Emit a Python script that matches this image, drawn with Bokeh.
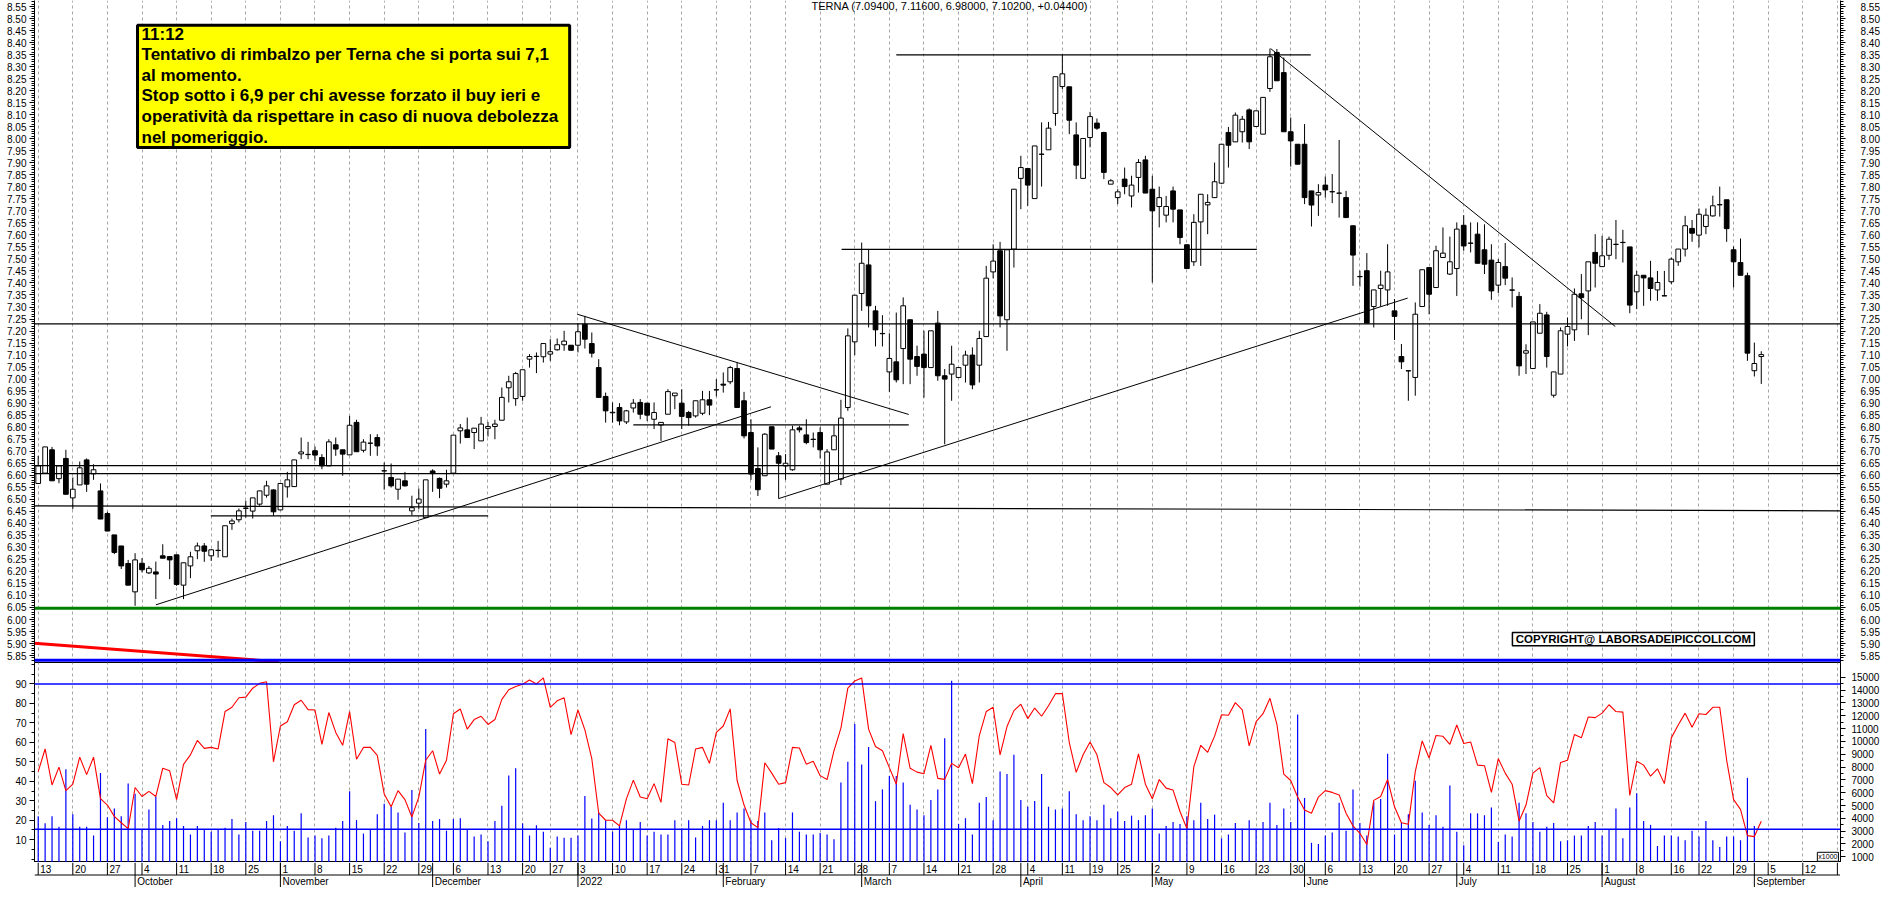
from bokeh.plotting import figure
from bokeh.layouts import column
from bokeh.models import (Range1d, LinearAxis, FixedTicker, Grid, ColumnDataSource,
                          NumeralTickFormatter, Span, Label)
from bokeh.core.properties import value
from bokeh.embed import file_html
from bokeh.resources import INLINE

FONT = "Liberation Sans"

# ---------------- data (trading-day index 0 = 13 Sep 2021) ----------------
opens = [6.566,6.609,6.706,6.586,6.670,6.506,6.560,6.664,6.606,6.535,
6.441,6.352,6.306,6.233,6.115,6.234,6.194,6.198,6.265,6.262,
6.269,6.143,6.223,6.286,6.306,6.265,6.287,6.261,6.399,6.415,
6.462,6.451,6.480,6.517,6.539,6.456,6.552,6.553,6.689,6.686,
6.702,6.674,6.639,6.727,6.706,6.685,6.820,6.704,6.733,6.757,
6.618,6.591,6.542,6.577,6.452,6.484,6.424,6.618,6.587,6.563,
6.609,6.785,6.789,6.778,6.743,6.795,6.803,6.829,6.964,6.919,
6.928,7.083,7.094,7.093,7.104,7.122,7.143,7.141,7.141,7.228,
7.148,7.048,6.928,6.860,6.882,6.822,6.880,6.903,6.900,6.833,
6.809,6.854,6.931,6.900,6.861,6.847,6.858,6.914,6.955,6.979,
6.989,7.044,6.910,6.778,6.628,6.598,6.802,6.681,6.639,6.623,
6.797,6.768,6.750,6.778,6.563,6.706,6.584,6.882,7.155,7.356,
7.475,7.284,7.190,7.030,7.072,7.127,7.247,7.094,7.104,7.048,
7.233,7.014,7.021,7.007,7.058,7.100,7.058,7.177,7.446,7.534,
7.247,7.541,7.835,7.876,7.751,7.935,7.954,8.105,8.217,8.216,
8.016,7.835,8.005,8.065,8.026,7.811,7.755,7.832,7.762,7.839,
7.912,7.790,7.718,7.682,7.783,7.704,7.559,7.488,7.654,7.725,
7.755,7.815,8.026,7.987,8.029,8.120,8.051,8.019,8.209,8.359,
8.275,8.029,7.977,7.977,7.783,7.766,7.807,7.779,7.773,7.755,
7.638,7.427,7.451,7.302,7.377,7.371,7.284,7.094,7.035,7.007,
7.302,7.464,7.381,7.506,7.437,7.460,7.640,7.566,7.603,7.538,
7.495,7.391,7.468,7.371,7.344,7.108,7.044,7.191,7.267,6.933,
7.021,7.187,7.205,7.355,7.367,7.527,7.468,7.515,7.561,7.569,
7.550,7.363,7.432,7.421,7.371,7.347,7.405,7.488,7.541,7.627,
7.599,7.635,7.679,7.725,7.746,7.538,7.485,7.430,7.035,7.094]

highs = [6.681,6.718,6.718,6.639,6.706,6.591,6.657,6.670,6.646,6.566,
6.448,6.352,6.306,6.248,6.276,6.255,6.223,6.241,6.313,6.262,
6.269,6.236,6.282,6.320,6.318,6.293,6.327,6.390,6.420,6.462,
6.494,6.506,6.535,6.577,6.542,6.566,6.614,6.664,6.757,6.739,
6.720,6.688,6.750,6.757,6.706,6.847,6.831,6.750,6.771,6.771,
6.653,6.649,6.584,6.614,6.515,6.545,6.581,6.625,6.591,6.623,
6.767,6.813,6.840,6.796,6.843,6.822,6.831,6.965,7.014,7.030,
7.039,7.104,7.111,7.148,7.166,7.169,7.201,7.141,7.233,7.263,
7.194,7.083,6.944,6.903,6.900,6.872,6.917,6.917,6.900,6.903,
6.820,6.958,6.942,6.958,6.868,6.910,6.951,6.951,7.000,7.028,
7.055,7.069,6.947,6.833,6.716,6.775,6.802,6.697,6.688,6.806,
6.806,6.833,6.778,6.799,6.709,6.808,6.914,7.211,7.349,7.568,
7.538,7.305,7.266,7.191,7.277,7.340,7.247,7.139,7.201,7.201,
7.284,7.042,7.139,7.048,7.118,7.132,7.201,7.471,7.561,7.571,
7.538,7.790,7.929,7.876,7.970,8.068,8.070,8.258,8.349,8.216,
8.068,8.001,8.112,8.084,8.029,7.832,7.790,7.880,7.846,7.915,
7.929,7.846,7.801,7.762,7.801,7.704,7.559,7.686,7.769,7.769,
7.901,7.977,8.049,8.109,8.095,8.126,8.116,8.172,8.375,8.373,
8.338,8.088,7.977,8.061,7.783,7.811,7.843,7.853,7.995,7.783,
7.638,7.451,7.524,7.371,7.451,7.561,7.333,7.146,7.035,7.319,
7.455,7.464,7.555,7.631,7.593,7.652,7.682,7.652,7.652,7.644,
7.561,7.499,7.566,7.423,7.363,7.145,7.238,7.312,7.280,7.030,
7.215,7.256,7.377,7.437,7.488,7.603,7.596,7.593,7.662,7.621,
7.550,7.450,7.432,7.492,7.450,7.450,7.506,7.541,7.679,7.662,
7.710,7.710,7.763,7.801,7.746,7.552,7.585,7.443,7.152,7.116]

lows = [6.566,6.607,6.577,6.567,6.521,6.459,6.560,6.531,6.581,6.418,
6.368,6.272,6.210,6.143,6.057,6.196,6.189,6.085,6.255,6.168,
6.140,6.085,6.172,6.251,6.240,6.244,6.258,6.261,6.373,6.404,
6.424,6.420,6.473,6.507,6.431,6.456,6.507,6.553,6.667,6.667,
6.660,6.625,6.639,6.681,6.598,6.685,6.698,6.695,6.681,6.681,
6.540,6.549,6.498,6.553,6.434,6.459,6.424,6.531,6.505,6.549,
6.609,6.732,6.757,6.709,6.743,6.761,6.750,6.829,6.903,6.889,
6.910,7.048,7.025,7.069,7.076,7.118,7.118,7.120,7.111,7.127,
7.090,6.924,6.819,6.819,6.808,6.813,6.861,6.833,6.826,6.792,
6.743,6.854,6.875,6.792,6.806,6.840,6.850,6.850,6.928,6.944,
6.979,6.882,6.753,6.581,6.514,6.598,6.709,6.503,6.581,6.619,
6.778,6.729,6.716,6.670,6.563,6.706,6.559,6.868,7.100,7.284,
7.215,7.136,7.136,6.947,6.986,6.979,6.979,7.014,6.923,7.048,
6.993,6.729,6.910,7.007,6.986,6.958,6.986,7.177,7.419,7.215,
7.118,7.464,7.707,7.721,7.751,7.801,7.954,8.054,8.206,8.019,
7.832,7.835,7.964,8.037,7.832,7.811,7.728,7.769,7.714,7.776,
7.774,7.402,7.631,7.652,7.652,7.561,7.460,7.471,7.471,7.603,
7.755,7.811,7.880,7.987,7.984,7.957,8.051,8.019,8.195,8.241,
8.029,7.884,7.894,7.728,7.635,7.679,7.755,7.732,7.672,7.672,
7.388,7.385,7.233,7.215,7.302,7.305,7.163,7.042,6.910,6.931,
7.302,7.270,7.381,7.506,7.433,7.346,7.534,7.527,7.482,7.437,
7.330,7.358,7.391,7.298,7.014,7.021,7.044,7.191,7.048,6.923,
7.021,7.136,7.159,7.249,7.183,7.381,7.468,7.496,7.499,7.485,
7.274,7.291,7.305,7.326,7.326,7.346,7.395,7.471,7.510,7.571,
7.548,7.603,7.676,7.676,7.571,7.381,7.432,7.076,7.011,6.980]

closes = [6.639,6.718,6.577,6.639,6.521,6.542,6.631,6.563,6.623,6.418,
6.368,6.279,6.223,6.143,6.248,6.207,6.213,6.189,6.255,6.248,
6.146,6.236,6.261,6.306,6.284,6.290,6.288,6.390,6.410,6.452,
6.464,6.506,6.535,6.556,6.448,6.566,6.581,6.664,6.697,6.687,
6.684,6.639,6.739,6.709,6.688,6.808,6.698,6.738,6.734,6.722,
6.619,6.556,6.584,6.556,6.465,6.501,6.581,6.607,6.546,6.577,
6.767,6.797,6.757,6.796,6.813,6.803,6.813,6.924,6.989,7.023,
7.039,7.094,7.095,7.148,7.114,7.143,7.158,7.120,7.197,7.166,
7.108,6.924,6.868,6.862,6.826,6.868,6.900,6.854,6.850,6.861,
6.820,6.948,6.942,6.845,6.840,6.910,6.914,6.892,6.956,6.975,
7.048,6.882,6.764,6.605,6.540,6.771,6.709,6.650,6.650,6.789,
6.789,6.736,6.749,6.706,6.697,6.764,6.838,7.180,7.349,7.482,
7.305,7.205,7.189,7.086,6.997,7.305,7.083,7.053,7.048,7.201,
7.014,7.000,7.062,7.048,7.100,6.976,7.169,7.420,7.491,7.263,
7.538,7.790,7.880,7.807,7.970,7.936,8.044,8.258,8.270,8.077,
7.890,8.001,8.092,8.044,7.860,7.825,7.779,7.801,7.807,7.901,
7.774,7.700,7.755,7.718,7.707,7.589,7.460,7.652,7.769,7.735,
7.821,7.977,7.973,8.098,8.081,7.987,8.116,8.172,8.341,8.241,
8.029,7.991,7.894,7.755,7.724,7.776,7.787,7.780,7.774,7.672,
7.516,7.426,7.233,7.371,7.391,7.446,7.261,7.072,7.034,7.270,
7.455,7.353,7.534,7.524,7.488,7.624,7.554,7.565,7.482,7.478,
7.367,7.485,7.420,7.370,7.055,7.118,7.238,7.274,7.094,7.030,
7.201,7.219,7.353,7.339,7.488,7.482,7.513,7.582,7.560,7.568,
7.308,7.432,7.421,7.377,7.402,7.346,7.499,7.541,7.638,7.607,
7.686,7.682,7.721,7.726,7.626,7.488,7.432,7.108,7.065,7.102]

oscillator = [45.0,56.6,38.1,47.3,35.2,38.5,52.4,43.4,52.4,31.1,
27.8,22.0,18.7,15.7,36.8,32.2,34.8,32.2,46.7,45.4,
30.6,48.7,53.6,61.0,56.9,57.4,56.6,75.8,78.0,82.9,
83.2,87.8,90.3,91.1,50.0,68.4,70.6,79.3,81.6,76.8,
76.6,59.0,75.3,65.1,58.5,75.8,51.3,57.4,57.4,53.3,
33.5,26.9,35.2,30.6,21.7,31.9,50.8,55.7,43.7,50.8,
74.7,77.1,66.8,71.7,73.4,69.2,
71.7,82.1,87.0,88.7,89.8,92.0,90.0,93.1,78.0,81.3,
82.9,64.0,76.6,66.4,51.6,23.6,20.0,20.0,17.1,31.0,
40.6,31.9,31.0,38.8,29.2,61.8,59.9,38.5,38.1,56.6,
57.4,49.2,65.1,68.4,77.2,40.4,27.8,18.7,16.2,49.5,
44.2,38.5,39.3,57.4,57.1,48.8,50.3,42.9,40.9,55.7,
67.3,87.8,91.5,93.1,66.8,57.9,55.7,47.0,38.5,64.5,
46.7,44.7,43.9,58.5,41.5,41.0,49.2,47.0,54.0,38.8,
63.5,75.8,78.0,53.6,68.1,76.3,79.6,72.2,77.6,73.4,
78.8,85.0,85.0,59.9,44.6,53.6,60.2,53.6,39.3,36.8,
33.0,36.8,38.5,54.1,38.5,31.0,40.9,36.5,35.5,24.5,
15.7,47.5,58.5,54.9,63.2,74.2,73.9,80.4,76.7,58.2,
70.6,74.7,82.6,69.4,43.7,40.4,31.9,
25.3,23.6,31.9,35.2,34.3,33.0,23.6,17.1,13.3,7.5,
30.2,32.2,40.9,26.9,18.7,17.9,45.0,60.7,52.0,63.5,
63.1,59.0,68.9,59.4,60.2,48.3,48.0,34.3,51.6,44.2,
38.5,19.5,27.8,44.2,47.0,32.7,28.9,49.7,50.8,64.0,
62.3,73.0,72.7,75.0,79.3,75.8,75.5,32.7,50.3,48.3,
42.6,46.4,38.8,62.3,68.9,75.0,67.8,74.7,74.3,78.0,
78.0,50.8,30.6,25.6,12.1,11.6,19.5]

# volume, in thousands of the axis unit (axis reads x1000)
volume_k = [4.16,3.61,4.16,3.34,7.84,4.31,3.34,3.34,2.66,7.54,
4.09,4.76,4.16,6.71,5.91,3.16,4.69,5.71,3.49,3.79,
4.01,3.41,2.74,3.41,3.11,2.96,3.11,3.26,3.94,2.74,
3.71,3.04,3.04,3.79,4.24,2.21,3.41,3.04,4.39,2.51,
2.66,2.44,2.66,3.26,3.79,6.11,3.86,2.81,3.11,4.31,
5.14,4.91,4.46,2.89,6.21,3.64,10.98,3.79,3.94,3.04,
3.94,4.01,3.11,2.59,2.74,2.21,
3.79,4.99,7.34,7.91,3.61,2.66,3.46,2.96,1.71,2.59,
2.49,2.49,2.66,5.74,3.99,4.46,3.86,2.96,3.41,3.86,
3.16,3.71,2.66,2.96,2.74,2.74,3.86,3.21,3.86,2.51,
3.41,3.86,3.86,5.21,3.86,4.46,4.76,3.86,3.79,4.46,
2.29,3.24,2.46,4.46,2.96,2.74,2.74,2.86,2.74,2.36,
6.79,8.41,11.36,8.21,9.56,5.34,6.26,7.31,7.31,6.79,
5.06,4.69,4.24,5.44,6.26,10.24,14.74,3.56,4.01,2.74,
5.21,5.66,3.86,7.66,7.46,8.96,5.44,4.91,5.36,7.46,
4.91,4.69,4.76,6.11,4.31,3.86,4.16,3.86,5.06,4.01,
4.54,3.79,4.21,3.86,4.24,4.76,2.81,3.41,3.71,3.56,
4.16,3.86,5.21,3.94,4.29,2.44,2.74,3.64,3.19,3.86,
3.19,3.71,5.21,3.49,4.76,3.71,12.11,
5.59,2.09,1.99,2.66,2.89,5.21,3.04,6.26,3.64,2.66,
5.29,5.51,9.04,2.74,3.66,4.31,6.94,4.46,3.49,4.24,
3.34,6.56,2.96,1.91,4.39,4.39,4.24,4.84,2.16,2.74,
2.59,5.21,4.39,3.71,2.96,3.34,3.64,2.21,2.29,2.66,
2.66,3.41,3.71,2.66,3.14,4.76,2.44,4.84,5.96,3.79,
3.49,1.84,2.66,2.66,2.59,2.29,3.04,2.59,3.79,2.29,
1.76,2.59,2.59,2.29,7.16,3.41,0.0]

# calendar axis (week separators; the last one, 19 Sep, has no visible label)
week_starts = [0,5,10,15,20,25,30,35,40,45,50,55,60,65,70,74,78,83,88,93,
               98,103,108,113,118,123,128,133,138,143,148,152,156,161,166,171,176,181,186,191,
               196,201,206,211,216,221,226,231,236,240,245,250,255,260]
week_labels = ["13","20","27","4","11","18","25","1","8","15","22","29","6","13","20","27",
               "3","10","17","24","31","7","14","21","28","7","14","21","28","4","11","19","25",
               "2","9","16","23","30","6","13","20","27","4","11","18","25","1","8","16","22","29",
               "5","12"]
month_starts = [14,35,57,78,99,119,142,161,183,205,226,248]
month_labels = ["October","November","December","2022","February","March","April","May",
                "June","July","August","September"]

price_ticks = [round(5.85 + 0.05 * k, 2) for k in range(55)]
price_minor = [round(5.80 + 0.01 * k, 2) for k in range(285)]
osc_ticks = [10, 20, 30, 40, 50, 60, 70, 80, 90]
osc_minor = [0, 5, 15, 25, 35, 45, 55, 65, 75, 85, 95, 100]
vol_ticks = [1, 2, 3, 4, 5, 6, 7, 8, 9, 10, 11, 12, 13, 14, 15]
vol_tick_labels = ["1000","2000","3000","4000","5000","6000","7000","8000","9000",
                   "10000","11000","12000","13000","14000","15000"]
vol_unit_text = "x1000"

# drawn levels / trend lines (price units, x in trading-day index)
full_levels = [7.230, 6.640, 6.607]
green_level = 6.047
blue_level = 5.831
sloped_level = dict(x0=-0.6, y0=6.473, x1=260.6, y1=6.452)
short_levels = dict(x0=[24.94, 86.0, 116.1, 124.0], x1=[65.03, 125.8, 176.1, 183.9],
                    y=[6.431, 6.810, 7.540, 8.349])
trend_lines = dict(x0=[17.0, 77.9, 107.0, 178.1], y0=[6.061, 7.270, 6.503, 8.375],
                   x1=[105.9, 125.8, 197.9, 227.9], y1=[6.885, 6.853, 7.337, 7.219])
red_band = dict(x0=-0.55, y0=5.901, x1=34.8, y1=5.824)
osc_levels = [90, 15.4]

note_lines = ["11:12",
              "Tentativo di rimbalzo per Terna che si porta sui 7,1",
              "al momento.",
              "Stop sotto i 6,9 per chi avesse forzato il buy ieri e",
              "operatività da rispettare in caso di nuova debolezza",
              "nel pomeriggio."]
note_y = [8.435, 8.349, 8.264, 8.179, 8.092, 8.005]
note_box = dict(left=14.35, right=76.8, top=8.472, bottom=7.963)
title_text = "TERNA (7.09400, 7.11600, 6.98000, 7.10200, +0.04400)"
copyright_text = "COPYRIGHT@ LABORSADEIPICCOLI.COM"
copyright_box = dict(left=213.04, right=248.0, top=5.946, bottom=5.891)

# ---------------- figures ----------------
X0, X1 = -0.535, 260.45
xr = Range1d(X0, X1)
FW = 1806

def base_fig(h, yr):
    f = figure(frame_width=FW, frame_height=h, x_range=xr, y_range=yr,
               x_axis_location=None, y_axis_location=None, toolbar_location=None,
               output_backend="svg", min_border_left=34, min_border_right=0,
               min_border_top=0, min_border_bottom=0, background_fill_color="white",
               border_fill_color="white")
    f.grid.visible = False
    return f

def week_grid(f):
    f.add_layout(Grid(dimension=0, ticker=FixedTicker(ticks=week_starts),
                      grid_line_color="#a6a6a6", grid_line_dash="3 3", grid_line_width=1))

def style_axis(ax, standoff):
    ax.major_label_text_font = FONT
    ax.major_label_text_font_size = "10px"
    ax.major_label_text_color = "black"
    ax.axis_line_color = "black"
    ax.major_tick_line_color = "black"
    ax.minor_tick_line_color = "black"
    ax.major_tick_out = 5
    ax.major_tick_in = 0
    ax.minor_tick_out = 3
    ax.minor_tick_in = 0
    ax.major_label_standoff = standoff

# ---- price panel ----
p = base_fig(662, Range1d(5.8212, 8.575))
p.outline_line_color = None
week_grid(p)
for loc, so in (("left", 3), ("right", 15)):
    ax = LinearAxis(ticker=FixedTicker(ticks=price_ticks, minor_ticks=price_minor),
                    formatter=NumeralTickFormatter(format="0.00"))
    style_axis(ax, so)
    p.add_layout(ax, loc)

idx = list(range(len(closes)))
src = ColumnDataSource(dict(
    x=idx, h=highs, l=lows,
    top=[max(o, c) for o, c in zip(opens, closes)],
    bottom=[min(o, c) for o, c in zip(opens, closes)],
    fill=["white" if c >= o else "black" for o, c in zip(opens, closes)]))
p.segment(x0="x", y0="l", x1="x", y1="h", source=src, line_color="black", line_width=1)
p.vbar(x="x", width=0.68, top="top", bottom="bottom", fill_color="fill",
       line_color="black", line_width=1, source=src)

for lv in full_levels:
    p.add_layout(Span(location=lv, dimension="width", line_color="black", line_width=1.3))
p.add_layout(Span(location=green_level, dimension="width", line_color="#008000", line_width=3))
p.add_layout(Span(location=blue_level, dimension="width", line_color="#0000ff", line_width=3))
p.segment(x0=[sloped_level["x0"]], y0=[sloped_level["y0"]], x1=[sloped_level["x1"]],
          y1=[sloped_level["y1"]], line_color="black", line_width=1.2)
p.segment(x0=short_levels["x0"], y0=short_levels["y"], x1=short_levels["x1"],
          y1=short_levels["y"], line_color="black", line_width=1.2)
p.segment(x0=trend_lines["x0"], y0=trend_lines["y0"], x1=trend_lines["x1"],
          y1=trend_lines["y1"], line_color="black", line_width=1)
p.segment(x0=[red_band["x0"]], y0=[red_band["y0"]], x1=[red_band["x1"]], y1=[red_band["y1"]],
          line_color="#ff0000", line_width=3)

p.text(x=[111.75], y=[8.554], text=[title_text], text_font=value(FONT),
       text_font_size="11px", text_baseline="middle", text_align="left", text_color="black")

p.quad(left=[note_box["left"]], right=[note_box["right"]], top=[note_box["top"]],
       bottom=[note_box["bottom"]], fill_color="#ffff00", line_color="black", line_width=3)
p.text(x=[14.93] * len(note_lines), y=note_y, text=note_lines, text_font=value(FONT),
       text_font_size="17px", text_font_style="bold", text_baseline="middle",
       text_align="left", text_color="black")

p.quad(left=[copyright_box["left"]], right=[copyright_box["right"]], top=[copyright_box["top"]],
       bottom=[copyright_box["bottom"]], fill_color="white", line_color="black", line_width=1.5)
p.text(x=[(copyright_box["left"] + copyright_box["right"]) / 2],
       y=[(copyright_box["top"] + copyright_box["bottom"]) / 2], text=[copyright_text],
       text_font=value(FONT), text_font_size="11.5px", text_font_style="bold",
       text_baseline="middle", text_align="center", text_color="black")

# ---- oscillator / volume panel ----
q = base_fig(200, Range1d(-1.7, 101.0))
q.outline_line_color = "black"
q.extra_y_ranges = {"vol": Range1d(0.555, 16.16)}
week_grid(q)
axl = LinearAxis(ticker=FixedTicker(ticks=osc_ticks, minor_ticks=osc_minor))
style_axis(axl, 3)
q.add_layout(axl, "left")
axr = LinearAxis(y_range_name="vol",
                 ticker=FixedTicker(ticks=vol_ticks, minor_ticks=[v - 0.5 for v in vol_ticks]),
                 major_label_overrides={t: s for t, s in zip(vol_ticks, vol_tick_labels)})
style_axis(axr, 6)
q.add_layout(axr, "right")

q.segment(x0=idx, y0=[0] * len(idx), x1=idx, y1=volume_k, y_range_name="vol",
          line_color="#0000ff", line_width=1.2)
q.line(idx, oscillator, line_color="#ff0000", line_width=1.1)
for lv in osc_levels:
    q.add_layout(Span(location=lv, dimension="width", line_color="#0000ff", line_width=1.5))
# unit marker, kept just inside the panel's lower-right corner
q.text(x=[X1 - 0.3], y=[1.0], text=[vol_unit_text], y_range_name="vol",
       text_font=value(FONT), text_font_size="7px", text_baseline="middle",
       text_align="right", text_color="black",
       background_fill_color="white", border_line_color="black", padding=1)

# ---- calendar strip ----
d = base_fig(25, Range1d(0, 2))
d.outline_line_color = None
d.segment(x0=week_starts, y0=[1] * len(week_starts), x1=week_starts, y1=[2] * len(week_starts),
          line_color="black", line_width=1)
d.segment(x0=month_starts, y0=[0] * len(month_starts), x1=month_starts,
          y1=[2] * len(month_starts), line_color="black", line_width=1)
d.add_layout(Span(location=1, dimension="width", line_color="black", line_width=1))
d.text(x=[w + 0.3 for w in week_starts[:len(week_labels)]], y=[1.5] * len(week_labels),
       text=week_labels, text_font=value(FONT), text_font_size="10px",
       text_baseline="middle", text_align="left", text_color="black")
d.text(x=[m + 0.3 for m in month_starts], y=[0.5] * len(month_starts), text=month_labels,
       text_font=value(FONT), text_font_size="10px", text_baseline="middle",
       text_align="left", text_color="black")

layout = column(p, q, d, spacing=0)
open("out.html", "w").write(file_html(layout, INLINE))
